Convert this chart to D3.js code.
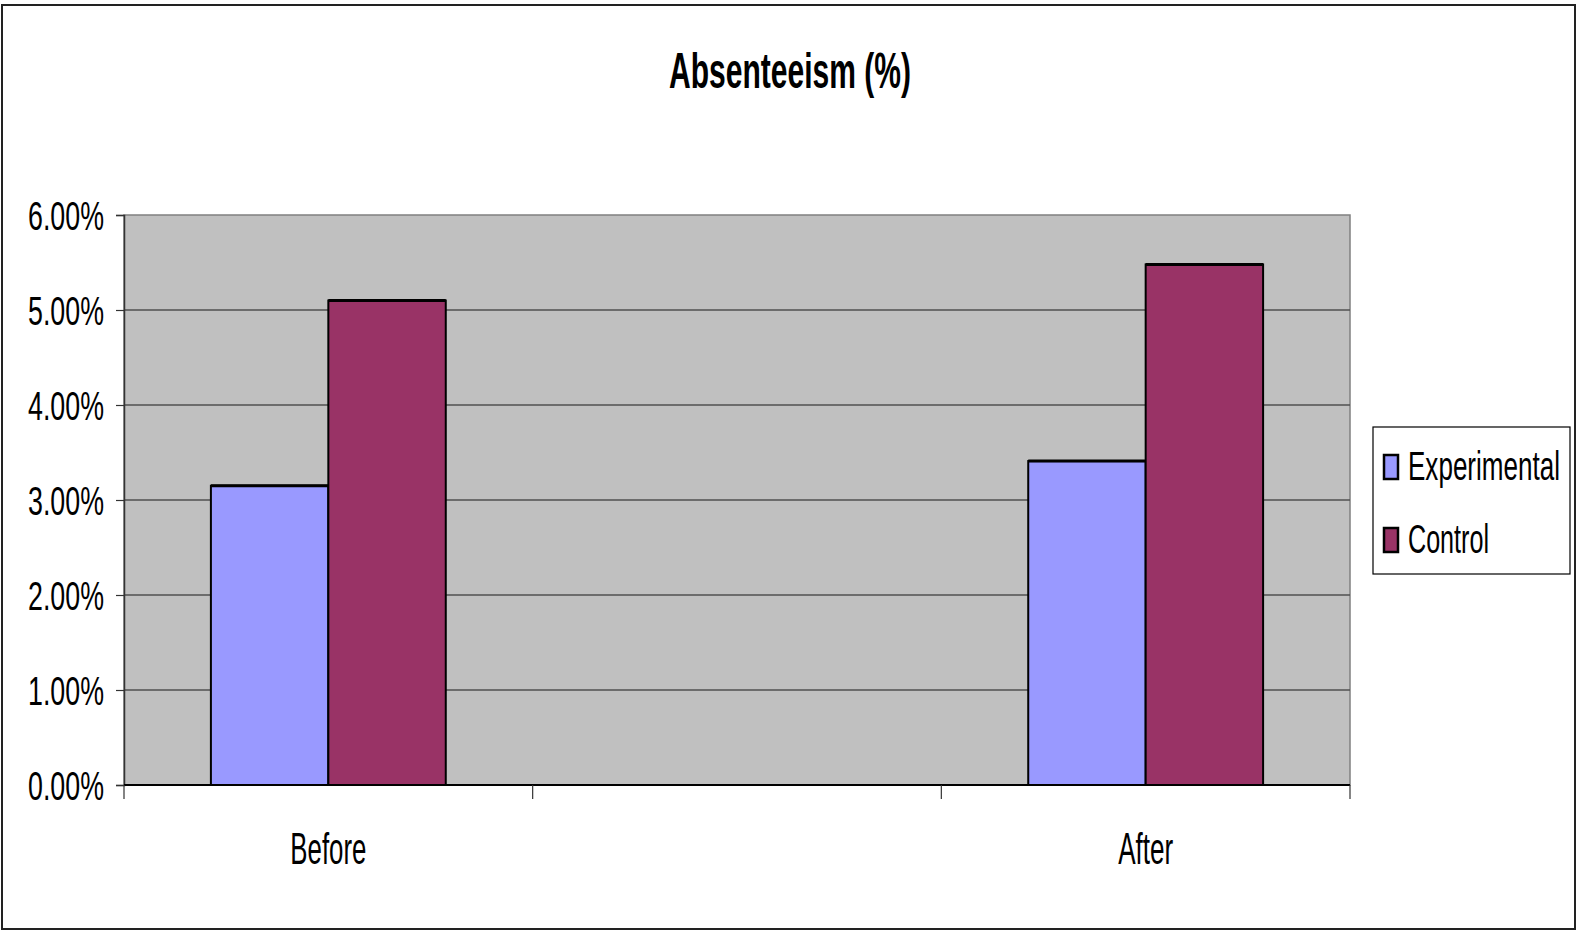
<!DOCTYPE html>
<html>
<head>
<meta charset="utf-8">
<script src="https://cdn.jsdelivr.net/npm/d3@7"></script>
<style>
  html, body { margin: 0; padding: 0; background: #fff; }
  svg { display: block; }
  text { font-family: "Liberation Sans Narrow", "Arial Narrow", "Liberation Sans", Arial, sans-serif; fill: #000; }
</style>
</head>
<body>
<svg id="chart" width="1576" height="931"></svg>
<script>
// Absenteeism rates (%) before and after, by group
const categories = ["Before", "", "After"];
const seriesNames = ["Experimental", "Control"];
const experimental = [3.15, null, 3.41];
const control = [5.10, null, 5.48];
const yTicks = [0, 1, 2, 3, 4, 5, 6];
const colors = ["#9999FF", "#993366"];

const svg = d3.select("#chart");
const W = 1576, H = 931;

// outer frame
svg.append("rect")
  .attr("x", 2).attr("y", 5).attr("width", W - 3).attr("height", 924)
  .attr("fill", "#fff").attr("stroke", "#222").attr("stroke-width", 2);

const plot = { left: 124, right: 1350, top: 215, bottom: 785 };

const x = d3.scaleBand().domain(d3.range(categories.length))
  .range([plot.left, plot.right]).paddingInner(0).paddingOuter(0);
const x1 = d3.scaleBand().domain(seriesNames)
  .range([0, x.bandwidth()]).paddingInner(0).paddingOuter(0.74);
const y = d3.scaleLinear().domain([0, 6]).range([plot.bottom, plot.top]);

// plot area
svg.append("rect")
  .attr("x", plot.left).attr("y", plot.top)
  .attr("width", plot.right - plot.left).attr("height", plot.bottom - plot.top)
  .attr("fill", "#C0C0C0").attr("stroke", "#808080").attr("stroke-width", 1.5);

// horizontal gridlines
svg.append("g").selectAll("line")
  .data(yTicks.filter(d => d > 0 && d < 6))
  .join("line")
  .attr("x1", plot.left).attr("x2", plot.right)
  .attr("y1", d => y(d)).attr("y2", d => y(d))
  .attr("stroke", "#505050").attr("stroke-width", 1.5);

// bars
const series = [experimental, control];
const gBars = svg.append("g");
categories.forEach((c, i) => {
  seriesNames.forEach((s, j) => {
    const v = series[j][i];
    if (v == null) return;
    gBars.append("rect")
      .attr("x", x(i) + x1(s))
      .attr("y", y(v))
      .attr("width", x1.bandwidth())
      .attr("height", y(0) - y(v))
      .attr("fill", colors[j])
      .attr("stroke", "#000").attr("stroke-width", 2);
    // heavier top edge
    gBars.append("line")
      .attr("x1", x(i) + x1(s)).attr("x2", x(i) + x1(s) + x1.bandwidth())
      .attr("y1", y(v)).attr("y2", y(v))
      .attr("stroke", "#000").attr("stroke-width", 3);
  });
});

// y axis
const yAxis = d3.axisLeft(y).tickValues(yTicks)
  .tickSize(8).tickPadding(12)
  .tickFormat(d => d3.format(".2f")(d) + "%");
const gy = svg.append("g").attr("transform", `translate(${plot.left},0)`).call(yAxis);
gy.select(".domain").attr("stroke", "#333").attr("stroke-width", 1.5);
gy.selectAll(".tick line").attr("stroke", "#333").attr("stroke-width", 1.2);
gy.selectAll(".tick text")
  .attr("font-size", 41).attr("dy", "0.36em")
  .attr("textLength", 76).attr("lengthAdjust", "spacingAndGlyphs")
  .style("font-family", null);

// x axis: ticks at band boundaries
const boundaries = d3.range(categories.length + 1).map(i => plot.left + i * x.bandwidth());
svg.append("line")
  .attr("x1", plot.left).attr("x2", plot.right)
  .attr("y1", plot.bottom).attr("y2", plot.bottom)
  .attr("stroke", "#000").attr("stroke-width", 2);
svg.append("g").selectAll("line").data(boundaries).join("line")
  .attr("x1", d => d).attr("x2", d => d)
  .attr("y1", plot.bottom).attr("y2", plot.bottom + 14)
  .attr("stroke", "#333").attr("stroke-width", 1.2);

const catWidths = { "Before": 76, "After": 55 };
svg.append("g").selectAll("text").data(categories.map((c, i) => ({ c, i })).filter(d => d.c))
  .join("text")
  .attr("x", d => x(d.i) + x.bandwidth() / 2)
  .attr("y", 864)
  .attr("text-anchor", "middle")
  .attr("font-size", 45)
  .attr("textLength", d => catWidths[d.c]).attr("lengthAdjust", "spacingAndGlyphs")
  .text(d => d.c);

// title
svg.append("text")
  .attr("x", 790).attr("y", 88)
  .attr("text-anchor", "middle")
  .attr("font-size", 50).attr("font-weight", "bold")
  .attr("textLength", 242).attr("lengthAdjust", "spacingAndGlyphs")
  .text("Absenteeism (%)");

// legend
const lg = svg.append("g");
lg.append("rect")
  .attr("x", 1373).attr("y", 427).attr("width", 197).attr("height", 147)
  .attr("fill", "#fff").attr("stroke", "#000").attr("stroke-width", 1.2);
const legendWidths = [152, 81];
seriesNames.forEach((s, j) => {
  const cy = 467 + j * 73;
  lg.append("rect")
    .attr("x", 1384).attr("y", cy - 12).attr("width", 14).attr("height", 24)
    .attr("fill", colors[j]).attr("stroke", "#000").attr("stroke-width", 2.5);
  lg.append("text")
    .attr("x", 1408).attr("y", cy + 13)
    .attr("font-size", 41)
    .attr("textLength", legendWidths[j]).attr("lengthAdjust", "spacingAndGlyphs")
    .text(s);
});
</script>
</body>
</html>
